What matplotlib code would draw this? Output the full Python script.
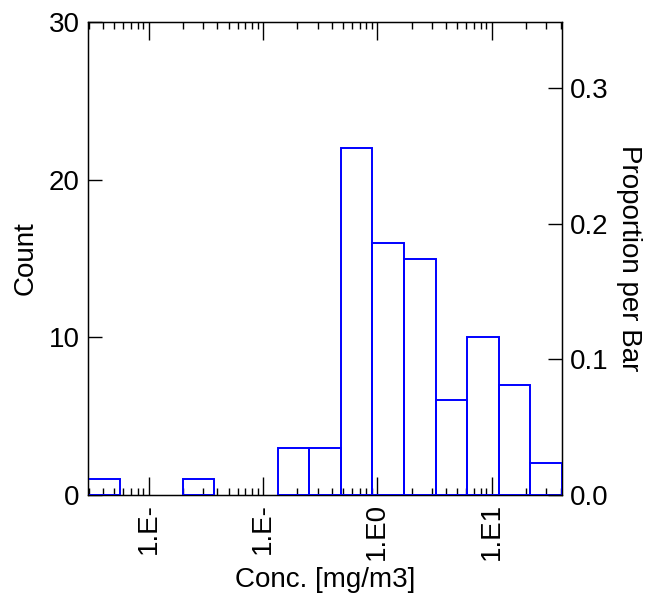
import numpy as np
import matplotlib
matplotlib.use("Agg")
import matplotlib.pyplot as plt
from matplotlib.ticker import LogLocator, NullFormatter, FixedLocator, FixedFormatter

plt.rcParams['font.family'] = ['Liberation Sans', 'DejaVu Sans']

# data
log_min, log_max = -2.53, 1.615
counts = [1, 0, 0, 1, 0, 0, 3, 3, 22, 16, 15, 6, 10, 7, 2]
xtick_vals = [1e-2, 1e-1, 1e0, 1e1]
xtick_labels = ["1.E-", "1.E-", "1.E0", "1.E1"]
count_ticks = [0, 10, 20, 30]
prop_ticks = [0.0, 0.1, 0.2, 0.3]

edges = np.logspace(log_min, log_max, len(counts) + 1)
total = sum(counts)

fig = plt.figure(figsize=(6.46, 6.05), dpi=100)
ax = fig.add_axes([88/646, 1-495/605, (562-88)/646, (495-22)/605])

for i, c in enumerate(counts):
    if c > 0:
        ax.bar(edges[i], c, width=edges[i+1]-edges[i], align='edge',
               fill=False, edgecolor='#0000ff', linewidth=1.4, zorder=3)

ax.set_xscale('log')
ax.set_xlim(edges[0], edges[-1])
ax.set_ylim(0, 30)
ax.xaxis.set_major_locator(FixedLocator(xtick_vals))
ax.xaxis.set_major_formatter(FixedFormatter(xtick_labels))
ax.xaxis.set_minor_locator(LogLocator(base=10, subs=np.arange(2, 10)))
ax.xaxis.set_minor_formatter(NullFormatter())
ax.set_yticks(count_ticks)

fs = 20
ax.tick_params(axis='x', which='major', direction='in', length=13, width=1,
               top=True, labelsize=fs, labelrotation=90, pad=6)
ax.tick_params(axis='x', which='minor', direction='in', length=5, width=1, top=True)
ax.tick_params(axis='y', which='major', direction='in', length=10, width=1,
               labelsize=fs, pad=6)
for lab in ax.get_xticklabels():
    lab.set_va('top')

for s in ax.spines.values():
    s.set_linewidth(1)

ax.set_xlabel("Conc. [mg/m3]", fontsize=fs, labelpad=5)
ax.set_ylabel("Count", fontsize=fs, labelpad=7)

ax2 = ax.twinx()
ax2.set_ylim(0, 30/total)
ax2.set_yticks(prop_ticks)
ax2.set_yticklabels([f"{v:.1f}" for v in prop_ticks])
ax2.tick_params(axis='y', direction='in', length=10, width=1, labelsize=fs, pad=6)
ax2.set_ylabel("Proportion per Bar", fontsize=fs, rotation=-90, labelpad=24)

fig.savefig("out.png", dpi=100)
